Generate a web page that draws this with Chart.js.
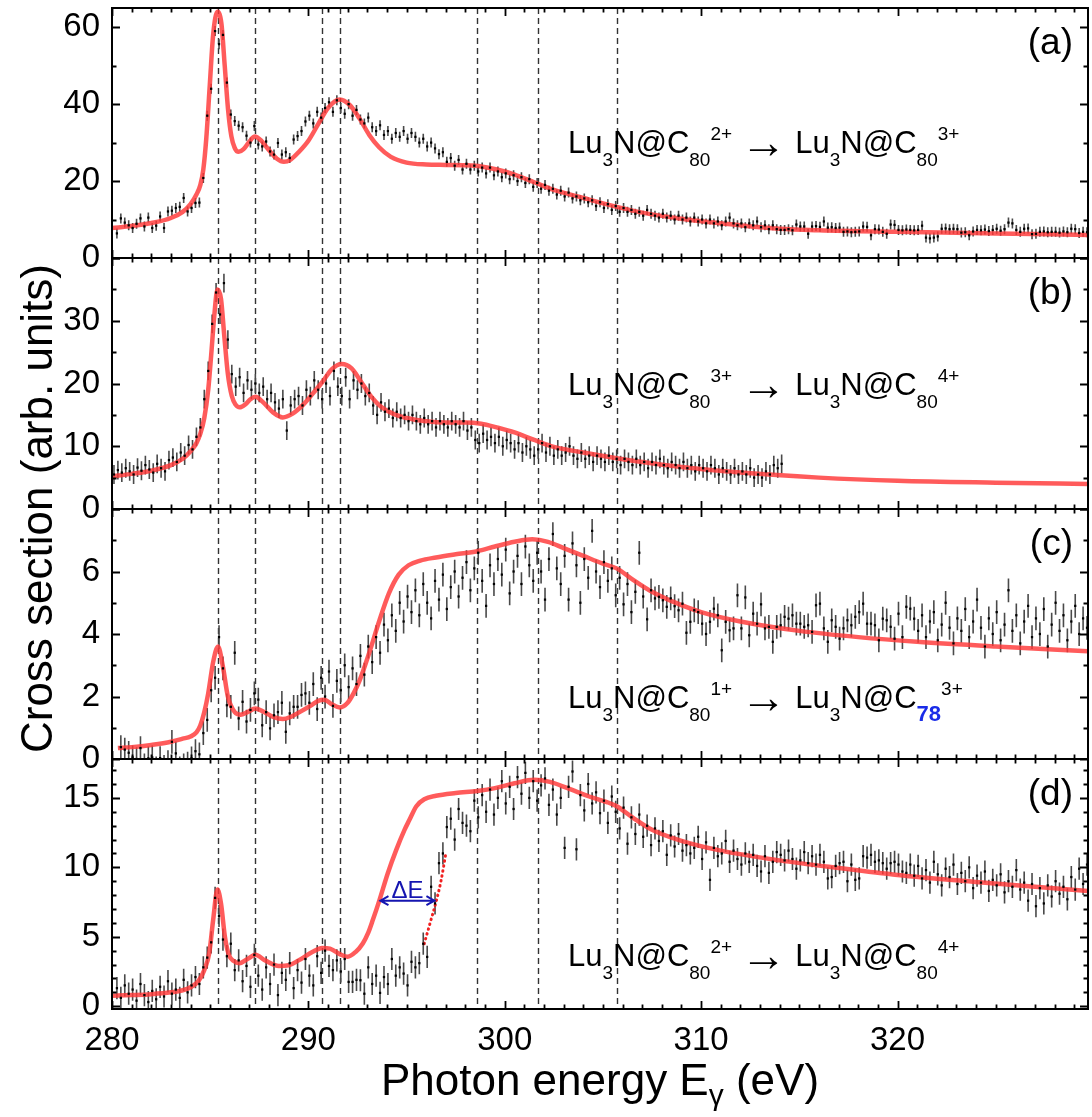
<!DOCTYPE html>
<html>
<head>
<meta charset="utf-8">
<script src="https://cdn.jsdelivr.net/npm/chart.js@4.4.1/dist/chart.umd.min.js"></script>
<style>
  html, body { margin: 0; padding: 0; background: #fff; }
  #wrap { width: 1092px; height: 1117px; }
</style>
</head>
<body>
<div id="wrap"><canvas id="spectra" width="1092" height="1117"></canvas></div>
<script>
// measured points sit on a 0.2 eV grid; first energy of each panel
const startA = 280.25, startB = 280.1, startC = 280.45, startD = 280.25;
const stepE = 0.2;

// (a) Lu3N@C80 2+ -> 3+
const countsA = [
  6.4,10.3,9.2,8.5,7.8,8.9,10.3,8.2,10.5,7.8,
  8.4,10.8,7.8,12.1,12.3,13,13.3,15.6,12.1,13,
  14.3,14.4,20.8,37,44,59,55.6,58,45.6,37.3,
  35.6,34.4,34,31.8,30,34.3,29.5,29,30.3,27.7,
  26.9,29.9,26.9,27.5,26,30.8,31.7,33,35.5,37,
  35,38,36.5,39,40.5,38,41,39,37.5,40,
  37,38.5,36,35,36.5,34,33,34.5,32,33,
  31,32.5,31.5,33,31,32.5,31.5,30,31,29,
  30,28.5,27,27.5,25,26,24,25.5,23,24.5,
  23,24,22.5,23.5,22,23.5,21.5,22.5,21,22,
  20.5,21.5,20,21,19.5,20.5,18.5,19.5,18,19,
  17.5,18,16.5,17.5,16,17,15.5,16,15,15.5,
  14.5,15,13.5,14.5,13,14,12.5,13.5,12,13,
  12,12.5,11.5,12,11,12.5,11.5,11,10.5,11.5,
  10.5,11,10,11,10,10.5,9.5,10.5,9.5,10,
  9,10,9,9.5,8.5,9.5,10.5,9,8.5,9,
  8,9,8.5,9.5,8,8.5,7.5,8.5,7.5,7.3,
  7.3,7.5,7.2,8.7,8.2,8.2,6.3,8.2,8.3,8.1,
  9.5,7.9,8,7.8,7.9,6.8,6.9,6.7,6.8,6.9,
  8.2,8.1,5.9,7.5,7.4,6.8,6.3,8.7,8.6,7.3,
  7.2,7.4,7.3,7.2,7.3,8.4,5.3,5.1,5.3,5.6,
  7.6,7.7,7.5,7.6,7.5,6.6,6.7,5.9,6.9,7.3,
  7.2,7.4,7.0,7.3,7.6,7.1,7.5,9.2,9.0,7.3,
  6.8,7.6,7.7,6.2,6.3,6.8,6.9,6.7,6.8,6.8,
  6.6,6.9,6.7,7.6,7.5,6.5,6.8,6.7
];
// (b) Lu3N@C80 3+ -> 4+
const countsB = [
  5.5,6.2,5.8,6.5,6.0,5.5,6.6,6.1,7.0,6.3,
  5.8,7.2,6.5,6.0,7.8,8.2,7.5,9.0,8.5,10.2,
  9.5,11.5,13.0,17.5,22.0,29.5,34.5,31.0,36.0,27.0,
  21.5,19.5,21.0,18.5,20.5,19.0,20.0,18.5,19.5,17.5,
  18.5,17.0,16.0,17.5,12.5,16.5,17.5,18.0,16.5,19.0,
  18.0,20.5,19.0,17.5,20.0,18.0,22.0,19.5,18.0,21.0,
  17.5,20.5,19.0,20.0,18.0,18.5,16.5,15.0,17.0,15.5,
  16.0,14.5,15.5,14.5,15.0,14.0,15.0,14.0,13.5,14.5,
  13.5,14.0,13.0,14.0,13.5,13.0,14.0,13.5,13.0,14.0,
  12.5,13.0,11.0,10.5,12.0,11.0,11.5,10.5,11.5,10.0,
  11.0,10.5,9.5,10.5,9.0,10.0,9.5,8.5,9.5,10.5,
  9.0,10.0,8.5,9.5,8.5,9.0,10.0,8.5,8.0,9.0,
  8.0,8.5,7.5,8.5,8.0,7.5,8.5,7.5,8.0,7.0,
  8.0,7.5,7.0,8.0,7.0,7.5,6.5,7.5,7.0,8.0,
  7.0,6.5,7.5,7.0,6.5,7.5,6.5,7.0,6.0,7.0,
  6.5,6.0,7.0,6.5,5.5,6.5,6.0,5.5,6.5,5.5,
  6.0,5.5,6.5,5.0,5.5,5.0,6.0,5.5,7.0,6.5,7.2
];
// (c) Lu3N@C80 1+ -> Lu3N@C78 3+
const countsC = [
  0.38,0.3,0.2,0.05,0.0,0.35,-0.2,0.02,0.05,-0.3,
  0.03,-0.25,-0.1,0.55,0.18,-0.3,-0.2,-0.15,0.02,0.25,
  0.15,0.83,1.25,2.2,2.6,3.9,2.9,1.72,1.67,3.4,
  1.3,1.83,1.2,1.57,2.1,1.9,1.08,1.5,0.98,1.4,
  1.5,1.8,0.87,1.46,1.67,1.67,2.05,2.1,1.8,2.4,
  1.6,2.6,2.0,2.8,1.7,2.5,2.2,3.0,2.3,2.9,
  2.4,3.3,2.7,3.6,3.1,3.9,3.4,4.3,3.8,4.6,
  4.1,5.0,4.4,5.2,4.7,5.4,4.6,5.6,5.0,4.5,
  5.7,5.1,5.9,4.8,5.5,6.0,5.2,5.8,6.3,5.4,
  6.1,6.6,5.7,4.9,6.2,5.6,6.4,5.9,6.7,5.3,
  6.0,6.5,5.6,6.8,6.2,5.7,6.6,6.0,5.1,6.4,
  7.2,6.1,5.6,6.5,5.1,6.9,6.2,5.0,6.4,5.8,
  7.3,6.0,5.5,6.3,5.7,6.1,5.24,5.8,4.95,5.6,
  4.7,5.35,6.6,5.2,4.47,5.4,5.14,5.19,5.08,4.87,
  5.14,4.89,4.76,4.97,4.04,4.39,4.76,4.7,4.33,4.0,
  4.39,4.81,4.6,3.48,4.39,4.12,4.18,5.24,4.18,5.17,
  3.96,4.65,4.33,4.95,4.18,4.23,3.75,4.23,4.28,4.55,
  4.49,4.6,4.33,4.33,4.23,4.28,4.07,4.92,4.97,4.18,
  3.75,4.44,4.23,3.85,4.18,4.44,4.28,4.55,4.7,4.97,
  4.33,4.33,4.28,3.8,4.49,4.44,4.23,3.85,4.65,3.9,
  4.87,4.81,4.49,4.1,4.6,3.9,4.4,4.7,3.8,4.3,
  5.0,4.2,3.7,4.5,4.1,4.8,3.9,4.4,5.1,4.2,
  3.6,4.5,4.0,4.7,3.8,4.3,5.4,4.1,4.6,3.7,
  4.4,4.9,3.9,4.5,4.0,4.8,3.6,4.3,5.0,4.1,
  4.6,3.8,4.4,4.9,4.0,4.5,4.2
];
// (d) Lu3N@C80 2+ -> 4+
const countsD = [
  1.3,0.6,1.5,0.9,1.2,0.4,1.6,0.8,0.3,1.1,
  0.5,1.4,0.7,1.8,0.9,1.2,0.6,1.9,1.0,1.5,
  2.1,1.6,2.8,3.5,4.6,7.8,6.5,4.8,3.6,4.5,
  2.6,3.3,1.8,2.9,1.4,3.7,2.2,1.2,2.8,1.6,
  3.0,0.8,2.4,1.9,3.1,1.3,2.6,1.7,3.4,2.2,
  1.5,3.6,2.4,4.0,2.9,2.6,3.3,2.5,3.4,1.75,
  1.75,1.9,1.87,0.9,2.8,1.6,2.2,0.96,2.1,1.6,
  3.4,2.2,2.8,2.35,1.5,3.2,2.8,3.1,4.5,3.55,
  8.6,7.4,10.3,11.0,12.9,13.5,12.0,14.2,13.2,13.0,
  12.6,14.8,13.6,15.2,14.0,15.6,13.8,15.0,16.2,14.6,
  15.8,14.2,16.5,15.3,16.8,15.0,16.2,14.8,15.9,16.4,
  14.5,15.6,13.8,15.0,11.4,15.8,16.9,11.3,15.2,14.1,
  16.0,14.6,15.4,13.9,14.8,13.2,15.1,14.0,12.8,14.3,
  11.7,13.6,12.4,13.8,12.2,13.0,11.6,12.8,11.9,12.6,
  10.9,12.3,11.5,12.4,11.2,11.6,11.0,11.4,12.2,10.6,
  11.8,9.1,11.4,10.8,11.0,11.9,10.4,11.2,10.6,10.2,
  11.0,10.4,10.9,10.1,9.7,10.8,9.6,10.4,11.1,10.9,
  10.5,11.2,10.6,9.9,10.5,11.1,10.3,10.8,10.2,10.9,
  10.4,9.2,9.3,10.1,10.3,10.4,9.0,10.2,9.1,9.2,
  10.8,10.7,10.9,10.4,10.5,10.3,9.9,10.3,10.4,10.2,
  9.7,9.6,10.2,9.4,10.1,9.2,9.8,8.9,10.4,9.5,
  8.7,9.9,9.3,10.2,8.8,9.6,9.0,10.0,8.5,9.4,
  8.9,9.7,8.3,9.1,8.7,9.5,8.2,9.0,8.6,9.8,
  8.4,8.9,7.6,8.8,7.2,8.5,7.4,8.7,7.9,9.0,
  8.1,8.6,7.7,9.3,8.4,9.9,8.8,10.2
];
// typical error bar half-length per panel
const errA = 1.3, errB = 1.5, errC = 0.38, errD = 0.8;

// fitted model curves [energy, cross section]
const fitA = [[280,7.8],[281,8.3],[282,9.1],[283,10.4],[283.6,12.0],[284.0,14.0],[284.3,16.5],[284.5,19.0],[284.65,23],[284.8,31],[284.98,45],[285.15,58],[285.37,64],[285.57,61],[285.74,50],[285.91,38.6],[286.08,31.6],[286.25,28.6],[286.45,27.6],[286.7,28.3],[287.0,30.3],[287.27,31.6],[287.6,30.5],[288.0,28.0],[288.4,25.8],[288.75,25.0],[289.1,25.6],[289.5,27.5],[290.0,30.5],[290.5,34.8],[291.0,39],[291.6,41.2],[292.1,39.8],[292.6,36.3],[293.1,32],[293.6,28.8],[294.2,26.3],[295,24.8],[296,24.3],[297,24.2],[298,24.1],[298.8,23.8],[299.6,23],[300.5,21.7],[301.5,19.7],[302.5,17.7],[304,15.6],[305.7,13.3],[307,11.8],[309,10.2],[312,8.5],[314,7.6],[316,7.2],[320,6.8],[325,6.4],[329.7,6.0]];
const fitB = [[280,5.2],[281,5.6],[282,6.1],[283,7.0],[283.6,8.0],[284.0,9.2],[284.3,10.5],[284.5,12.0],[284.7,14.5],[284.9,19],[285.05,24.5],[285.2,30.5],[285.37,35.0],[285.55,33.5],[285.72,27.5],[285.9,21.5],[286.1,18.0],[286.3,16.6],[286.5,16.2],[286.8,16.7],[287.05,17.5],[287.3,17.9],[287.7,17.0],[288.2,15.4],[288.7,14.6],[289.2,15.2],[289.7,16.5],[290.2,18.3],[290.7,20.2],[291.2,22.3],[291.7,23.1],[292.2,22.4],[292.7,20.2],[293.2,17.9],[293.7,16.3],[294.3,15.2],[295,14.5],[296,14.0],[297,13.8],[298,13.8],[298.8,13.6],[299.6,13.0],[300.5,12.2],[301.5,11.0],[302.5,9.9],[304,9.0],[305.7,8.1],[307,7.5],[309,6.7],[312,5.8],[316,5.0],[320,4.5],[325,4.2],[329.7,4.0]];
const fitC = [[280.3,0.35],[281,0.38],[282,0.45],[283,0.55],[283.6,0.65],[284.0,0.72],[284.3,0.85],[284.5,1.08],[284.7,1.5],[284.9,2.1],[285.15,3.1],[285.4,3.6],[285.65,2.95],[285.9,2.0],[286.25,1.5],[286.55,1.42],[286.9,1.5],[287.3,1.62],[287.7,1.52],[288.2,1.35],[288.7,1.28],[289.1,1.35],[289.55,1.5],[290.1,1.7],[290.5,1.86],[290.8,1.9],[291.2,1.75],[291.6,1.65],[292.0,1.8],[292.3,2.1],[292.6,2.5],[293.1,3.4],[293.6,4.4],[294.1,5.3],[294.6,5.9],[295.1,6.2],[295.7,6.35],[296.5,6.45],[297.5,6.55],[298.6,6.65],[299.5,6.8],[300.5,6.95],[301.4,7.03],[302.2,6.95],[303,6.75],[304,6.5],[305,6.25],[305.7,6.1],[306.5,5.75],[307.5,5.35],[308.5,5.05],[310,4.7],[312,4.4],[315,4.1],[318,3.9],[321,3.75],[325,3.6],[329.7,3.45]];
const fitD = [[280,0.75],[281,0.8],[282,0.87],[283,1.0],[283.6,1.15],[284,1.37],[284.4,1.8],[284.7,2.6],[284.95,3.8],[285.15,6.2],[285.37,8.4],[285.55,7.4],[285.75,5.0],[285.95,3.7],[286.2,3.25],[286.5,3.1],[286.9,3.4],[287.3,3.7],[287.8,3.3],[288.5,2.9],[289.0,2.95],[289.5,3.3],[290.2,3.9],[290.7,4.2],[291.1,4.15],[291.6,3.75],[292.0,3.56],[292.4,3.9],[292.77,4.52],[293.05,5.3],[293.28,6.2],[293.62,7.64],[294.04,9.56],[294.47,11.24],[294.89,12.68],[295.14,13.4],[295.5,14.4],[295.9,14.9],[296.5,15.15],[297.5,15.35],[298.6,15.5],[299.5,15.7],[300.5,16.05],[301.5,16.3],[302.3,16.15],[303.2,15.7],[304.3,15.1],[305.2,14.7],[305.7,14.4],[306.5,13.6],[307.5,12.7],[309,11.9],[311,11.2],[314,10.5],[317,9.95],[320,9.45],[324,8.95],[329.7,8.3]];
// model onset shifted by the threshold difference (dotted)
const shiftedD = [[295.9,4.5],[296.2,6.0],[296.5,7.5],[296.75,9.0],[297.0,11.0]];
const deltaE = [293.62, 296.47], deltaEy = 7.6;

const resonances = [285.4, 287.3, 290.7, 291.6, 298.6, 301.7, 305.7];
const xTicks = [280, 290, 300, 310, 320];
const yTicksA = [0, 20, 40, 60];
const yTicksB = [0, 10, 20, 30];
const yTicksC = [0, 2, 4, 6];
const yTicksD = [0, 5, 10, 15];

const FONT = "'Liberation Sans', Arial, sans-serif";
const RED = 'rgba(255, 55, 55, 0.82)';
const BLUE = '#1a2ce8';

function points(start, values) {
  return values.map((v, i) => ({ x: +(start + i * stepE).toFixed(2), y: v }));
}
function pairs(arr) {
  return arr.map(p => ({ x: p[0], y: p[1] }));
}
function pointSet(axis, start, values, err) {
  return {
    data: points(start, values), yAxisID: axis, err: err, order: 0,
    pointStyle: 'rect', pointRadius: 1.6, pointBackgroundColor: '#000',
    pointBorderWidth: 0, showLine: false
  };
}
function fitSet(axis, arr) {
  return {
    type: 'line', data: pairs(arr), yAxisID: axis, order: 1,
    borderColor: RED, borderWidth: 4.5, pointRadius: 0,
    cubicInterpolationMode: 'monotone', fill: false
  };
}

function species(charge, cage, cageStyle) {
  return [
    { t: 'Lu', size: 31 },
    { t: '3', size: 19, dy: 13 },
    { t: 'N@C', size: 31 },
    Object.assign({ t: cage, size: 19, dy: 13 }, cageStyle || {}),
    { t: charge, size: 19, dy: -13 }
  ];
}
function reaction(from, to, cage, cageStyle) {
  return [
    ...species(from, '80'),
    { t: ' ', size: 31 },
    { t: '\u2192', size: 46, dy: 5 },
    { t: ' ', size: 31 },
    ...species(to, cage, cageStyle)
  ];
}

const panels = [
  { axis: 'yA', tag: '(a)', major: 20, minor: 10, textDy: 145, text: reaction('2+', '3+', '80') },
  { axis: 'yB', tag: '(b)', major: 10, minor: 5, textDy: 137, text: reaction('3+', '4+', '80') },
  { axis: 'yC', tag: '(c)', major: 2, minor: 1, textDy: 199, text: reaction('1+', '3+', '78', { bold: true, color: BLUE, size: 22 }) },
  { axis: 'yD', tag: '(d)', major: 5, minor: 1, textDy: 207, text: reaction('2+', '4+', '80') }
];

function setFont(ctx, p) {
  ctx.font = (p.bold ? 'bold ' : '') + p.size + 'px ' + (p.family || FONT);
}
function drawParts(ctx, x, y, parts) {
  for (const p of parts) {
    setFont(ctx, p);
    ctx.fillStyle = p.color || '#000';
    ctx.fillText(p.t, x, y + (p.dy || 0));
    x += ctx.measureText(p.t).width;
  }
}
function partsWidth(ctx, parts) {
  let w = 0;
  for (const p of parts) {
    setFont(ctx, p);
    w += ctx.measureText(p.t).width;
  }
  return w;
}

const decor = {
  id: 'decor',
  beforeDatasetsDraw(chart) {
    const { ctx, chartArea } = chart;
    const xs = chart.scales.x;
    ctx.save();
    // resonance positions
    ctx.strokeStyle = '#333';
    ctx.lineWidth = 1.4;
    ctx.setLineDash([6, 4]);
    ctx.beginPath();
    for (const e of resonances) {
      const px = Math.round(xs.getPixelForValue(e)) + 0.5;
      ctx.moveTo(px, chartArea.top);
      ctx.lineTo(px, chartArea.bottom);
    }
    ctx.stroke();
    ctx.setLineDash([]);
    // error bars
    for (const ds of chart.data.datasets) {
      if (!ds.err) continue;
      const ys = chart.scales[ds.yAxisID];
      ctx.save();
      ctx.beginPath();
      ctx.rect(xs.left, ys.top, xs.right - xs.left, ys.bottom - ys.top);
      ctx.clip();
      ctx.strokeStyle = '#4a4a4a';
      ctx.lineWidth = 1.6;
      ctx.beginPath();
      for (const p of ds.data) {
        const px = xs.getPixelForValue(p.x);
        ctx.moveTo(px, ys.getPixelForValue(p.y - ds.err));
        ctx.lineTo(px, ys.getPixelForValue(p.y + ds.err));
      }
      ctx.stroke();
      ctx.restore();
    }
    ctx.restore();
  },
  afterDatasetsDraw(chart) {
    const { ctx, chartArea } = chart;
    const xs = chart.scales.x;
    ctx.save();
    for (const p of panels) {
      const ys = chart.scales[p.axis];
      const L = xs.left, R = xs.right, T = ys.top, B = ys.bottom;
      ctx.strokeStyle = '#000';
      ctx.lineWidth = 1.8;
      ctx.beginPath();
      for (let v = 280; v <= 329; v++) {
        const len = v % 10 === 0 ? 8 : 4.5;
        const px = Math.round(xs.getPixelForValue(v)) + 0.5;
        ctx.moveTo(px, B); ctx.lineTo(px, B - len);
        ctx.moveTo(px, T); ctx.lineTo(px, T + len);
      }
      for (let k = Math.ceil(ys.min / p.minor - 1e-9); k * p.minor <= ys.max + 1e-9; k++) {
        const v = k * p.minor;
        const len = Math.abs(v / p.major - Math.round(v / p.major)) < 1e-6 ? 8 : 4.5;
        const py = Math.round(ys.getPixelForValue(v)) + 0.5;
        ctx.moveTo(L, py); ctx.lineTo(L + len, py);
        ctx.moveTo(R, py); ctx.lineTo(R - len, py);
      }
      ctx.stroke();
      ctx.lineWidth = 2;
      ctx.strokeRect(L, T, R - L, B - T);

      ctx.textAlign = 'right';
      ctx.textBaseline = 'alphabetic';
      ctx.fillStyle = '#000';
      ctx.font = '37px ' + FONT;
      ctx.fillText(p.tag, R - 15, T + 46);
      ctx.textAlign = 'left';
      drawParts(ctx, L + 456, T + p.textDy, p.text);
    }

    // threshold shift marker in (d)
    const ysD = chart.scales.yD;
    const x1 = xs.getPixelForValue(deltaE[0]);
    const x2 = xs.getPixelForValue(deltaE[1]);
    const ya = ysD.getPixelForValue(deltaEy);
    ctx.strokeStyle = '#1515b0';
    ctx.fillStyle = '#1515b0';
    ctx.lineWidth = 2;
    ctx.beginPath();
    ctx.moveTo(x1, ya); ctx.lineTo(x2, ya);
    ctx.moveTo(x1 + 9, ya - 4.5); ctx.lineTo(x1 + 1, ya); ctx.lineTo(x1 + 9, ya + 4.5);
    ctx.moveTo(x2 - 9, ya - 4.5); ctx.lineTo(x2 - 1, ya); ctx.lineTo(x2 - 9, ya + 4.5);
    ctx.stroke();
    ctx.font = '24px ' + FONT;
    ctx.textAlign = 'center';
    ctx.fillText('\u0394E', (x1 + x2) / 2, ya - 3);

    // axis titles
    ctx.fillStyle = '#000';
    ctx.save();
    ctx.translate(52, (chartArea.top + chartArea.bottom) / 2);
    ctx.rotate(-Math.PI / 2);
    ctx.font = '44px ' + FONT;
    ctx.textAlign = 'center';
    ctx.fillText('Cross section (arb. units)', 0, 0);
    ctx.restore();

    const xTitle = [{ t: 'Photon energy E', size: 44 }, { t: '\u03b3', size: 30, dy: 10 }, { t: ' (eV)', size: 44 }];
    ctx.textAlign = 'left';
    const w = partsWidth(ctx, xTitle);
    drawParts(ctx, (chartArea.left + chartArea.right) / 2 - w / 2, 1095, xTitle);
    ctx.restore();
  }
};

function yAxis(min, max, list, weight, stackWeight) {
  return {
    type: 'linear', position: 'left', stack: 'panels', stackWeight: stackWeight, weight: weight,
    min: min, max: max,
    grid: { display: false, drawTicks: false },
    border: { display: false },
    ticks: { font: { family: FONT, size: 33 }, color: '#000', padding: 12, autoSkip: false },
    afterBuildTicks: s => { s.ticks = list.map(v => ({ value: v })); },
    afterFit: s => { s.width = 112; s.paddingTop = 0; s.paddingBottom = 0; }
  };
}

const datasets = [
  pointSet('yA', startA, countsA, errA),
  pointSet('yB', startB, countsB, errB),
  pointSet('yC', startC, countsC, errC),
  pointSet('yD', startD, countsD, errD),
  fitSet('yA', fitA),
  fitSet('yB', fitB),
  fitSet('yC', fitC),
  fitSet('yD', fitD),
  {
    type: 'line', data: pairs(shiftedD), yAxisID: 'yD', order: 1,
    borderColor: 'rgba(240, 20, 20, 0.95)', borderWidth: 3, borderDash: [0.5, 4.5],
    borderCapStyle: 'round', pointRadius: 0, cubicInterpolationMode: 'monotone', fill: false
  }
];

new Chart(document.getElementById('spectra'), {
  type: 'scatter',
  data: { datasets: datasets },
  options: {
    responsive: false,
    animation: false,
    events: [],
    layout: { padding: { top: 8, right: 2, left: 0, bottom: 0 } },
    plugins: { legend: { display: false }, tooltip: { enabled: false } },
    scales: {
      x: {
        type: 'linear', position: 'bottom', min: 280, max: 329.7,
        grid: { display: false, drawTicks: false },
        border: { display: false },
        ticks: { font: { family: FONT, size: 33 }, color: '#000', padding: 12, maxRotation: 0, autoSkip: false },
        afterBuildTicks: s => { s.ticks = xTicks.map(v => ({ value: v })); },
        afterFit: s => { s.height = 108; s.paddingLeft = 0; s.paddingRight = 0; }
      },
      yA: yAxis(0, 65, yTicksA, 4, 250),
      yB: yAxis(0, 40, yTicksB, 3, 251),
      yC: yAxis(0, 8, yTicksC, 2, 250),
      yD: yAxis(-0.2, 17.8, yTicksD, 1, 250)
    }
  },
  plugins: [decor]
});
</script>
</body>
</html>
